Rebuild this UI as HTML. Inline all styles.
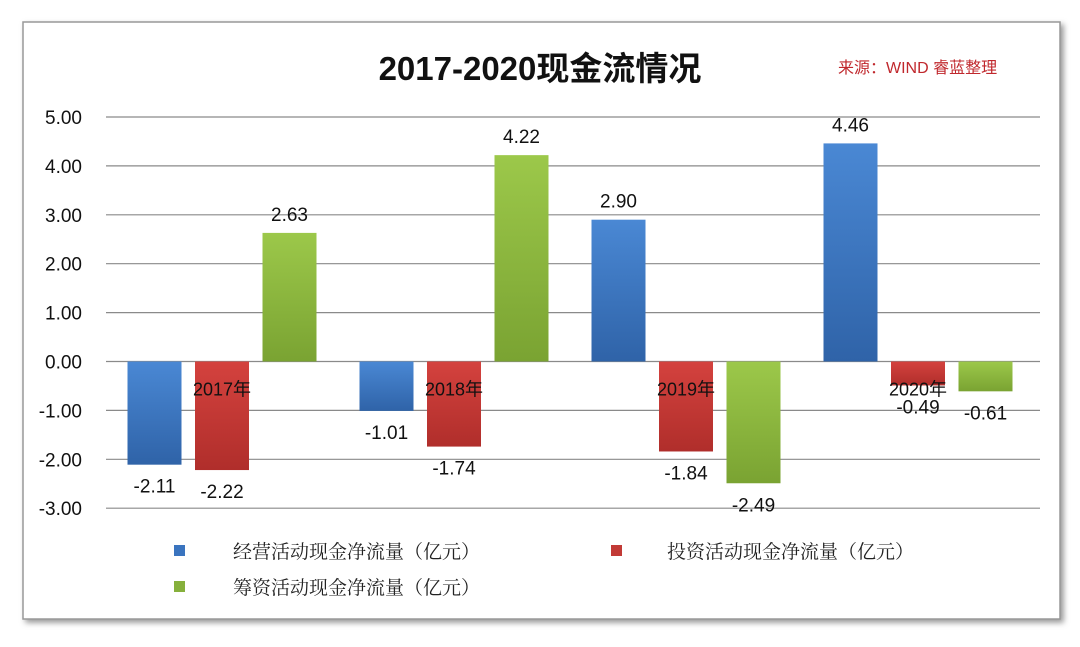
<!DOCTYPE html>
<html><head><meta charset="utf-8"><style>
body{margin:0;width:1080px;height:642px;background:#fff;overflow:hidden}
svg text{font-family:"Liberation Sans","Noto Sans CJK SC",sans-serif}
svg text.serif{font-family:"Liberation Serif","Noto Serif CJK SC",serif}
</style></head><body>
<svg width="1080" height="642">
<defs>
<linearGradient id="gb" x1="0" x2="0" y1="0" y2="1"><stop offset="0" stop-color="#4a88d4"/><stop offset="1" stop-color="#2f63a8"/></linearGradient>
<linearGradient id="gr" x1="0" x2="0" y1="0" y2="1"><stop offset="0" stop-color="#d4423e"/><stop offset="1" stop-color="#b02e2b"/></linearGradient>
<linearGradient id="gg" x1="0" x2="0" y1="0" y2="1"><stop offset="0" stop-color="#9cc84a"/><stop offset="1" stop-color="#7aa332"/></linearGradient>
<filter id="sh" x="-5%" y="-5%" width="110%" height="110%"><feDropShadow dx="3" dy="3" stdDeviation="3" flood-color="#999"/></filter>
</defs>
<rect x="23" y="22" width="1037" height="597" fill="#fff" stroke="#999" stroke-width="1.5" filter="url(#sh)"/>
<text x="540" y="80" text-anchor="middle" font-size="33" font-weight="bold" fill="#111">2017-2020现金流情况</text>
<text x="838" y="73" font-size="16" fill="#c0282d">来源：WIND 睿蓝整理</text>
<g id="grid"></g><g id="bars"></g>
<g>
<rect x="174" y="545" width="11" height="11" fill="#3a74bf"/>
<text class="serif" x="233" y="558" font-size="19" fill="#222">经营活动现金净流量（亿元）</text>
<rect x="611" y="545" width="11" height="11" fill="#c23a36"/>
<text class="serif" x="667" y="558" font-size="19" fill="#222">投资活动现金净流量（亿元）</text>
<rect x="174" y="581" width="11" height="11" fill="#86b03c"/>
<text class="serif" x="233" y="594" font-size="19" fill="#222">筹资活动现金净流量（亿元）</text>
</g>
</svg>
<script>
const categories=["2017年","2018年","2019年","2020年"];
const operating=[-2.11,-1.01,2.90,4.46];
const investing=[-2.22,-1.74,-1.84,-0.49];
const financing=[2.63,4.22,-2.49,-0.61];
const yTicks=[5,4,3,2,1,0,-1,-2,-3];
const NS="http://www.w3.org/2000/svg";
const y0=117,yPer=48.9,yMax=5,xL=106,xR=1040,catW=232;
const y=v=>y0+(yMax-v)*yPer;
const xc=i=>xL+catW*(i+0.5);
function mk(t,a,p){const e=document.createElementNS(NS,t);for(const k in a)e.setAttribute(k,a[k]);p.appendChild(e);return e;}
const grid=document.getElementById('grid'),bars=document.getElementById('bars');
yTicks.forEach(v=>{
 const l=mk('line',{x1:xL,x2:xR,y1:y(v),y2:y(v),stroke:'#8a8a8a','stroke-width':1.2},grid);
 
 
 const t=mk('text',{x:82,y:y(v)+7,'text-anchor':'end','font-size':19,fill:'#111'},grid);
 t.textContent=v.toFixed(2);
 
 
});
const series=[[operating,'url(#gb)','operating'],[investing,'url(#gr)','investing'],[financing,'url(#gg)','financing']];
const bw=54,step=67.5;
categories.forEach((c,i)=>{
 series.forEach((s,j)=>{
  const v=s[0][i],cx=xc(i)+(j-1)*step;
  const top=Math.min(y(v),y(0)),h=Math.abs(y(v)-y(0));
  const r=mk('rect',{x:cx-bw/2,y:top,width:bw,height:h,fill:s[1]},bars);
  
  
  const ty=v>=0?y(v)-12:y(v)+28;
  const t=mk('text',{x:cx,y:ty,'text-anchor':'middle','font-size':19,fill:'#111'},bars);
  t.textContent=v.toFixed(2);
  
  
 });
 const t=mk('text',{x:xc(i),y:y(0)+34,'text-anchor':'middle','font-size':18,fill:'#111'},bars);
 t.textContent=c;
 
 
});
</script>
</body></html>
